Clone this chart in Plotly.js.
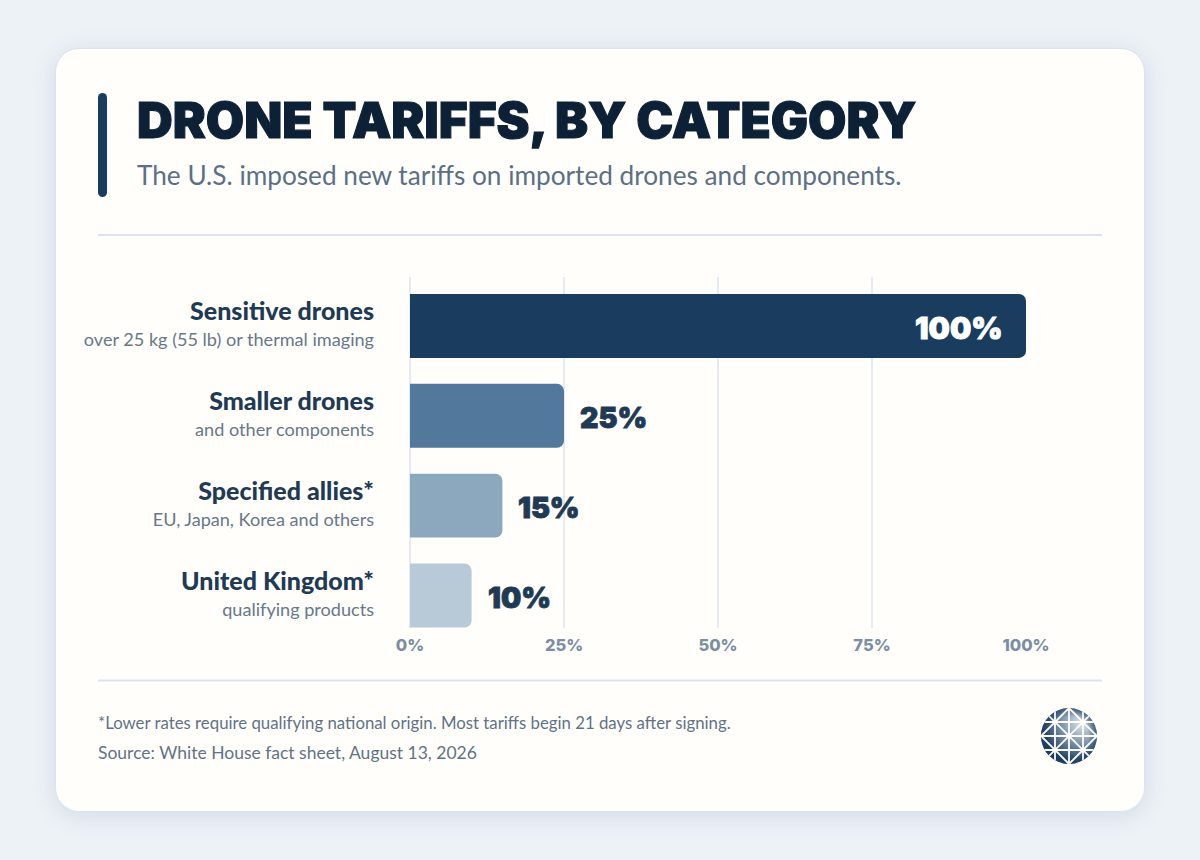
<!DOCTYPE html>
<html><head><meta charset="utf-8">
<script src="https://cdn.plot.ly/plotly-3.0.1.min.js"></script>
<style>
html,body{margin:0;padding:0;width:1200px;height:860px;overflow:hidden;background:#edf2f7;}
#card{position:absolute;left:55px;top:48px;width:1090px;height:764px;box-sizing:border-box;background:#fffefa;border:1.5px solid #d9e4ee;border-radius:24px;box-shadow:0 4px 24px rgba(30,60,90,.13);}
#accent{position:absolute;left:98px;top:93px;width:9px;height:104px;border-radius:5px;background:#1a3d5f;}
#chart{position:absolute;left:0;top:0;width:1200px;height:860px;}
#logo{position:absolute;left:1041px;top:708px;width:56px;height:56px;}
.gtitle{stroke:#0d2136;stroke-width:1.1px;}
.annotation[data-index="3"] text{stroke:#ffffff;stroke-width:.9px;}
.annotation[data-index="4"] text,.annotation[data-index="5"] text,.annotation[data-index="6"] text{stroke:#1f3a54;stroke-width:.9px;}
</style></head><body>
<div id="card"></div><div id="accent"></div>
<div id="chart"></div>
<svg id="logo" viewBox="-28 -28 56 56">
<defs><radialGradient id="g" gradientUnits="userSpaceOnUse" cx="13" cy="-13" r="40"><stop offset="0" stop-color="#dfe7ee"/><stop offset=".5" stop-color="#7f97ae"/><stop offset="1" stop-color="#1c3f60"/></radialGradient>
<radialGradient id="r" gradientUnits="userSpaceOnUse" cx="0" cy="0" r="28"><stop offset=".7" stop-color="#1c3f60" stop-opacity="0"/><stop offset="1" stop-color="#1c3f60" stop-opacity=".7"/></radialGradient>
<clipPath id="c"><circle r="28"/></clipPath></defs>
<circle r="28" fill="url(#g)"/><circle r="28" fill="url(#r)"/>
<g clip-path="url(#c)" stroke="#fffefa" stroke-width="1.8" fill="none">
<path d="M0-28V28M-14-28V28M14-28V28M-28 0H28M-28-14H28M-28 14H28"/>
<path d="M-28-28L28 28M-28 28L28-28M0-28L28 0L0 28L-28 0Z"/>
</g></svg>
<script>
const categories=['Sensitive drones','Smaller drones','Specified allies*','United Kingdom*'];
const details=['over 25 kg (55 lb) or thermal imaging','and other components','EU, Japan, Korea and others','qualifying products'];
const rates=[100,25,15,10];
const barColors=['#1a3d5f','#52799b','#8ba8bf','#b8c9d8'];
const labelColors=['#ffffff','#1f3a54','#1f3a54','#1f3a54'];
const xTicks=[0,25,50,75,100];
const titleText='DRONE TARIFFS, BY CATEGORY';
const subtitleText='The U.S. imposed new tariffs on imported drones and components.';
const footnoteText='*Lower rates require qualifying national origin. Most tariffs begin 21 days after signing.';
const sourceText='Source: White House fact sheet, August 13, 2026';
const F='Lato, sans-serif';
const H='Inter, sans-serif';
const W=1200,HT=860,L=410,R=1026,T=277,B=628.5;
const px=v=>(v-L)/(R-L), py=v=>(B-v)/(B-T);
const ticktext=categories.map((c,i)=>`<span style="font-size:25px;font-weight:900">${c}</span><br><span style="font-size:18.1px;color:#66788a;font-weight:400">${details[i]}</span>`);
const trace={type:'bar',orientation:'h',y:categories,x:rates,width:0.711,
 marker:{color:barColors,line:{width:0}},
 cliponaxis:false,hoverinfo:'skip'};
const valueLabels=rates.map((v,i)=>({xref:'x',yref:'y',x:v,y:categories[i],showarrow:false,
  text:v+'%',xanchor:v===100?'right':'left',xshift:v===100?-22:15,yshift:-2,borderpad:0,
  font:{family:H,size:v===100?30:28.5,weight:900,color:labelColors[i]}}));
const layout={width:W,height:HT,paper_bgcolor:'rgba(0,0,0,0)',plot_bgcolor:'rgba(0,0,0,0)',
 margin:{l:L,r:W-R,t:T,b:HT-B,pad:0},showlegend:false,barcornerradius:7,
 title:{text:titleText,xref:'container',yref:'container',x:137/W,xanchor:'left',y:1-121/HT,yanchor:'middle',pad:{l:0,r:0,t:0,b:0},
   font:{family:H,size:49.5,weight:900,color:'#0d2136'}},
 xaxis:{range:[0,100],tickvals:xTicks,ticktext:xTicks.map(v=>v+'%'),showgrid:true,gridcolor:'#e6eaf2',gridwidth:2,zeroline:true,zerolinecolor:'#e6eaf2',zerolinewidth:2,showline:false,ticks:'',ticklabelstandoff:5,
   tickfont:{family:H,size:16.5,weight:800,color:'#7a8ea5'},fixedrange:true},
 yaxis:{type:'category',categoryorder:'array',categoryarray:categories,autorange:false,range:[3+(B-596)/90,-(326-T)/90],tickmode:'array',tickvals:categories,ticktext:ticktext,showgrid:false,zeroline:false,showline:false,ticks:'',ticklabelstandoff:35,
   tickfont:{family:F,size:20,color:'#1f3a54'},fixedrange:true},
 annotations:[
  {xref:'paper',yref:'paper',x:px(135),y:py(175),xanchor:'left',yanchor:'middle',showarrow:false,text:subtitleText,font:{family:F,size:26.2,color:'#5a7087'}},
  {xref:'paper',yref:'paper',x:px(96),y:py(723),xanchor:'left',yanchor:'middle',showarrow:false,text:footnoteText,font:{family:F,size:16.8,color:'#5f7387'}},
  {xref:'paper',yref:'paper',x:px(96),y:py(753),xanchor:'left',yanchor:'middle',showarrow:false,text:sourceText,font:{family:F,size:17.5,color:'#5f7387'}},
  ...valueLabels
 ],
 shapes:[235,681].map(v=>({type:'line',xref:'paper',yref:'paper',x0:px(98),x1:px(1102),y0:py(v),y1:py(v),line:{color:'#d9e4ee',width:2},layer:'below'}))
};
Plotly.newPlot('chart',[trace],layout,{displayModeBar:false,staticPlot:true});
</script></body></html>
